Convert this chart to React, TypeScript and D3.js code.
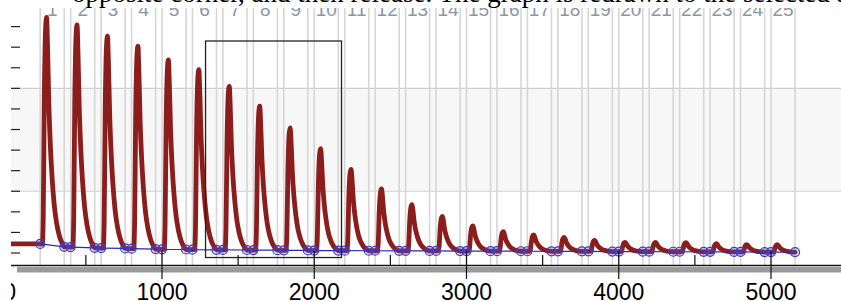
import React from 'react';
import * as d3 from 'd3';

const W = 841;
const H = 301;

// ---- data ----
const segmentLabels = ['1','2','3','4','5','6','7','8','9','10','11','12','13','14','15','16','17','18','19','20','21','22','23','24','25'];
const segmentStarts = [200,400,600,800,1000,1200,1400,1600,1800,2000,2200,2400,2600,2800,3000,3200,3400,3600,3800,4000,4200,4400,4600,4800,5000];
const segmentLength = 158;
const peakHeights = [11.05,10.8,10.3,9.85,9.2,8.75,7.95,7.0,5.95,4.95,3.95,3.0,2.25,1.68,1.22,0.95,0.8,0.68,0.54,0.45,0.45,0.45,0.4,0.36,0.36];
const baseStart = [0.44,0.29,0.24,0.21,0.18,0.16,0.15,0.14,0.13,0.12,0.115,0.11,0.105,0.1,0.095,0.09,0.085,0.08,0.075,0.07,0.065,0.06,0.055,0.05,0.045];
const baseEnd   = [0.30,0.25,0.22,0.19,0.17,0.155,0.145,0.135,0.125,0.12,0.11,0.105,0.1,0.095,0.09,0.085,0.08,0.075,0.07,0.065,0.06,0.055,0.05,0.045,0.04];
// pulse shape (offset from segment start, fraction of peak)
const pulseOffsets = [0,14,20,27,36,42,48,56,66,78,92,108,126,144,158];
const pulseShape   = [0,0,0.12,0.65,0.96,1,0.88,0.64,0.45,0.3,0.18,0.1,0.045,0.015,0];
const xMajorTicks = [0,1000,2000,3000,4000,5000];
const xMinorTicks = [500,1500,2500,3500,4500];
const yTicks = [0,1,2,3,4,5,6,7,8,9,10,11];
const bandRange = [3, 8];
const selectionX = [1286, 2179];
const selectionY = [10.3, -0.22];
const captionText = 'opposite corner, and then release. The graph is redrawn to the selected area.';

export default function App() {
  const x = d3.scaleLinear().domain([0, 5000]).range([9.75, 771]);
  const y = d3.scaleLinear().domain([0, 11]).range([253, 26.6]);

  // trace points
  const pts: [number, number][] = [[0, baseStart[0]]];
  segmentStarts.forEach((s, i) => {
    const b0 = baseStart[i];
    const b1 = baseEnd[i];
    pulseOffsets.forEach((o, j) => {
      const b = b0 + (b1 - b0) * (o / segmentLength);
      pts.push([s + o, b + peakHeights[i] * pulseShape[j]]);
    });
  });
  const traceLine = d3.line<[number, number]>()
    .x(d => x(d[0]))
    .y(d => y(d[1]))
    .curve(d3.curveMonotoneX);

  const circles: [number, number][] = [];
  segmentStarts.forEach((s, i) => {
    circles.push([s, baseStart[i]]);
    circles.push([s + segmentLength, baseEnd[i]]);
  });
  const baseLine = d3.line<[number, number]>().x(d => x(d[0])).y(d => y(d[1]));

  const axisY = 265.5;

  return (
    <svg width={W} height={H} style={{ position: 'absolute', left: 0, top: 0, background: '#fff' }}>
      <defs>
        <clipPath id="plotclip">
          <rect x={11} y={8} width={W - 11} height={H - 8} />
        </clipPath>
      </defs>
      <g clipPath="url(#plotclip)">
        {/* band */}
        <rect x={11} y={y(bandRange[1])} width={W - 11} height={y(bandRange[0]) - y(bandRange[1])} fill="#f7f7f7" />
        <line x1={11} x2={W} y1={y(bandRange[1])} y2={y(bandRange[1])} stroke="#cfcfcf" strokeWidth={1.2} />
        <line x1={11} x2={W} y1={y(bandRange[0])} y2={y(bandRange[0])} stroke="#cfcfcf" strokeWidth={1.2} />
        {/* segment lines */}
        {segmentStarts.map((s, i) => (
          <g key={'seg' + i}>
            <line x1={x(s)} x2={x(s)} y1={8} y2={axisY} stroke="#d6d6d6" strokeWidth={1.6} />
            <line x1={x(s + segmentLength)} x2={x(s + segmentLength)} y1={8} y2={axisY} stroke="#d6d6d6" strokeWidth={1.6} />
            <text x={x(s + segmentLength / 2)} y={16} textAnchor="middle" fontFamily="Liberation Sans, Arial, sans-serif" fontSize={19} fill="#8a96a8">{segmentLabels[i]}</text>
          </g>
        ))}
        {/* y ticks */}
        {yTicks.map(t => (
          <line key={'yt' + t} x1={11} x2={20} y1={y(t)} y2={y(t)} stroke="#222" strokeWidth={1.2} />
        ))}
        {/* trace */}
        <path d={traceLine(pts) || ''} fill="none" stroke="#8c1d1d" strokeWidth={4.8} strokeLinejoin="round" strokeLinecap="round" />
        {/* baseline + circles */}
        <path d={baseLine(circles) || ''} fill="none" stroke="#2a2ab0" strokeWidth={1.2} />
        {circles.map((c, i) => (
          <circle key={'c' + i} cx={x(c[0])} cy={y(c[1])} r={4.5} fill="rgba(90,90,230,0.22)" stroke="#3b3bc4" strokeWidth={1.2} />
        ))}
        {/* selection */}
        <rect x={x(selectionX[0])} y={y(selectionY[0])} width={x(selectionX[1]) - x(selectionX[0])} height={y(selectionY[1]) - y(selectionY[0])} fill="none" stroke="#222" strokeWidth={1.3} />
        {/* x axis */}
        <rect x={17} y={axisY + 1.5} width={W - 17} height={5.5} fill="#9a9a9a" />
        <line x1={11} x2={W} y1={axisY} y2={axisY} stroke="#111" strokeWidth={1.5} />
        {xMinorTicks.map(t => (
          <line key={'mn' + t} x1={x(t)} x2={x(t)} y1={255} y2={axisY} stroke="#111" strokeWidth={1.2} />
        ))}
        {xMajorTicks.map(t => (
          <g key={'mj' + t}>
            <line x1={x(t)} x2={x(t)} y1={251} y2={279} stroke="#111" strokeWidth={1.2} />
            <text x={x(t)} y={299.5} textAnchor="middle" fontFamily="Liberation Sans, Arial, sans-serif" fontSize={23} fill="#000">{t}</text>
          </g>
        ))}
      </g>
      <text x={72} y={2} fontFamily="Liberation Serif, Times New Roman, serif" fontSize={27} fill="#000">{captionText}</text>
    </svg>
  );
}
